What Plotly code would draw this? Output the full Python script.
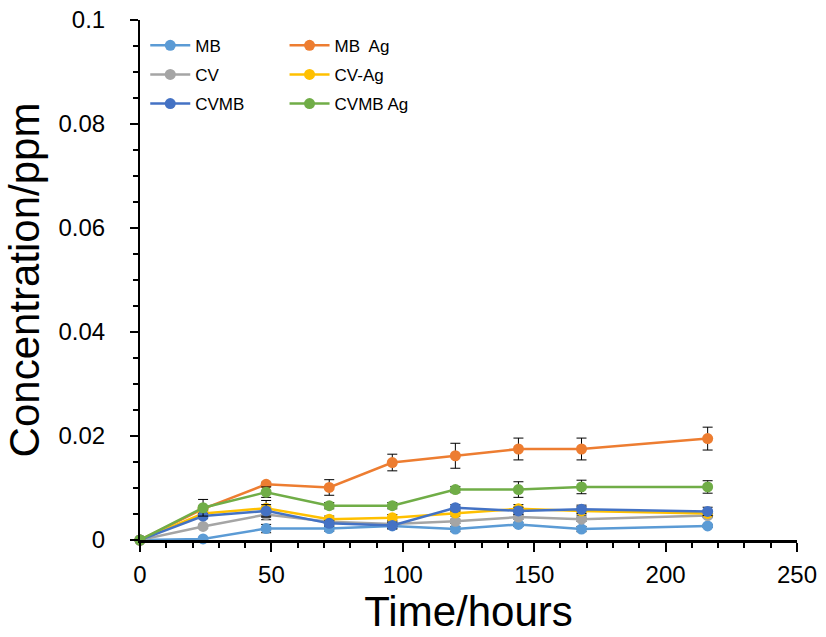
import plotly.graph_objects as go

time_h = [0, 24, 48, 72, 96, 120, 144, 168, 216]

names = ["MB", "MB  Ag", "CV", "CV-Ag", "CVMB", "CVMB Ag"]
colors = ["#5B9BD5", "#ED7D31", "#A5A5A5", "#FFC000", "#4472C4", "#70AD47"]

mb      = [0, 0.0002, 0.0022, 0.0022, 0.0027, 0.0021, 0.0030, 0.0021, 0.0027]
mb_ag   = [0, 0.0060, 0.0107, 0.0101, 0.0149, 0.0162, 0.0175, 0.0175, 0.0195]
cv      = [0, 0.0026, 0.0049, 0.0035, 0.0031, 0.0036, 0.0044, 0.0040, 0.0047]
cv_ag   = [0, 0.0051, 0.0061, 0.0040, 0.0043, 0.0052, 0.0060, 0.0056, 0.0051]
cvmb    = [0, 0.0046, 0.0056, 0.0032, 0.0028, 0.0062, 0.0056, 0.0059, 0.0055]
cvmb_ag = [0, 0.0062, 0.0092, 0.0066, 0.0066, 0.0097, 0.0097, 0.0102, 0.0102]

mb_err      = [0, 0.0003, 0.0008, 0.0005, 0.0006, 0.0005, 0.0004, 0.0005, 0.0003]
mb_ag_err   = [0, 0.0005, 0.0004, 0.0015, 0.0016, 0.0024, 0.0021, 0.0021, 0.0022]
cv_err      = [0, 0.0004, 0.0010, 0.0004, 0.0005, 0.0004, 0.0004, 0.0004, 0.0004]
cv_ag_err   = [0, 0.0006, 0.0015, 0.0006, 0.0006, 0.0006, 0.0008, 0.0008, 0.0005]
cvmb_err    = [0, 0.0005, 0.0012, 0.0005, 0.0006, 0.0006, 0.0007, 0.0008, 0.0008]
cvmb_ag_err = [0, 0.0016, 0.0010, 0.0006, 0.0006, 0.0006, 0.0015, 0.0013, 0.0012]

series = [mb, mb_ag, cv, cv_ag, cvmb, cvmb_ag]
errors = [mb_err, mb_ag_err, cv_err, cv_ag_err, cvmb_err, cvmb_ag_err]
legends = ["legend", "legend2", "legend", "legend2", "legend", "legend2"]

fig = go.Figure()
for i, (n, c, ys, es, lg) in enumerate(zip(names, colors, series, errors, legends)):
    fig.add_trace(go.Scatter(
        x=time_h, y=ys, name=n, mode="lines+markers",
        line=dict(color=c, width=2.5),
        marker=dict(color=c, size=11),
        error_y=dict(type="data", array=es, visible=True, color="#000000",
                     thickness=1, width=5),
        cliponaxis=False, legend=lg, legendgroup=n,
    ))

leg_common = dict(
    font=dict(family="Liberation Sans, Arial", size=17, color="#000000"),
    bgcolor="rgba(0,0,0,0)", traceorder="grouped", tracegroupgap=4,
    xanchor="left", yanchor="top", itemwidth=40,
)
fig.update_layout(
    width=826, height=637,
    margin=dict(l=140, r=29, t=20, b=97),
    paper_bgcolor="white", plot_bgcolor="white",
    font=dict(family="Liberation Sans, Arial", color="#000000"),
    legend=dict(x=0.008, y=0.985, **leg_common),
    legend2=dict(x=0.22, y=0.985, **leg_common),
    xaxis=dict(
        range=[0, 250], tick0=0, dtick=50, ticks="outside", ticklen=9,
        tickwidth=2, tickcolor="#000000", automargin=False,
        ticklabeloverflow="allow",
        minor=dict(dtick=10, ticks="outside", ticklen=5, tickwidth=2, tickcolor="#000000"),
        showline=True, linecolor="#000000", linewidth=2.5, showgrid=False,
        zeroline=False, tickfont=dict(size=24), ticklabelstandoff=2,
        title=dict(text="Time/hours", font=dict(size=42), standoff=4),
    ),
    yaxis=dict(
        range=[0, 0.1], tick0=0, dtick=0.02, ticks="outside", ticklen=8,
        tickwidth=2, tickcolor="#000000", automargin=False,
        ticklabeloverflow="allow",
        minor=dict(dtick=0.005, ticks="outside", ticklen=5, tickwidth=2, tickcolor="#000000"),
        showline=True, linecolor="#000000", linewidth=2, showgrid=False,
        zeroline=False, tickfont=dict(size=24), ticklabelstandoff=20,
        title=dict(text="Concentration/ppm", font=dict(size=42), standoff=6),
    ),
)

fig.write_html(
    "out.html",
    config={"displayModeBar": False},
    post_script="document.body.style.margin='0px';document.body.style.overflow='hidden';",
)
